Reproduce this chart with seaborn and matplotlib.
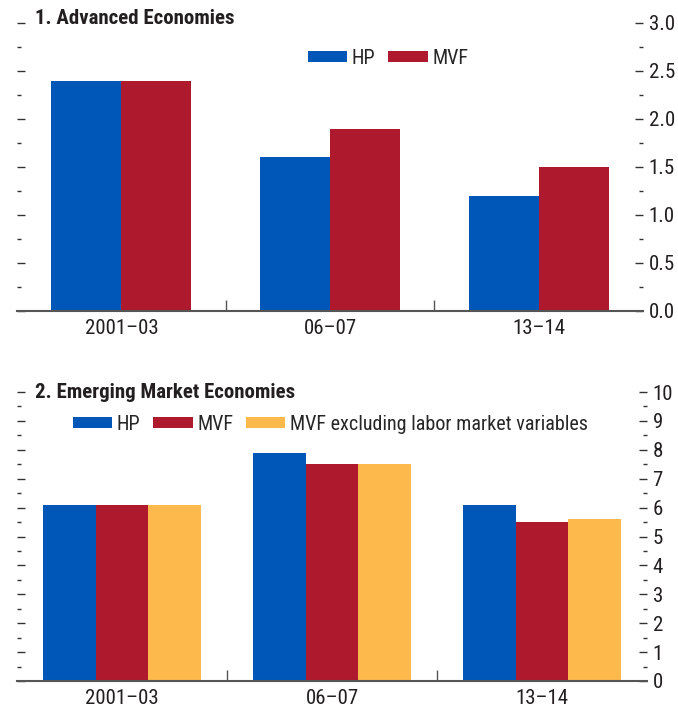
import matplotlib
matplotlib.use("Agg")
import matplotlib.pyplot as plt
import seaborn as sns
import pandas as pd
from matplotlib.ticker import MultipleLocator, FixedLocator

# ---- data ----
categories = ["2001–03", "06–07", "13–14"]
adv_series = ["HP", "MVF"]
adv_hp = [2.4, 1.6, 1.2]
adv_mvf = [2.4, 1.9, 1.5]
em_series = ["HP", "MVF", "MVF excluding labor market variables"]
em_hp = [6.1, 7.9, 6.1]
em_mvf = [6.1, 7.5, 5.5]
em_mvf_ex = [6.1, 7.5, 5.6]
adv_ticks = [0.0, 0.5, 1.0, 1.5, 2.0, 2.5, 3.0]
em_ticks = [0, 1, 2, 3, 4, 5, 6, 7, 8, 9, 10]

colors = ["#0057B8", "#AE192D", "#FDB94B"]

sns.set_theme(style="white")
plt.rcParams["font.family"] = ["Roboto Condensed", "DejaVu Sans"]

df_adv = pd.DataFrame({
    "cat": categories * 2,
    "val": adv_hp + adv_mvf,
    "series": [adv_series[0]] * 3 + [adv_series[1]] * 3,
})
df_em = pd.DataFrame({
    "cat": categories * 3,
    "val": em_hp + em_mvf + em_mvf_ex,
    "series": [em_series[0]] * 3 + [em_series[1]] * 3 + [em_series[2]] * 3,
})

fig = plt.figure(figsize=(6.78, 7.13), dpi=100)
ax1 = fig.add_axes([17 / 678, 1 - 311 / 713, (643 - 17) / 678, (311 - 23) / 713])
ax2 = fig.add_axes([17 / 678, 1 - 681 / 713, (647 - 17) / 678, (681 - 392) / 713])

sns.barplot(data=df_adv, x="cat", y="val", hue="series", palette=colors[:2],
            width=0.67, saturation=1, ax=ax1, errorbar=None, linewidth=0)
sns.barplot(data=df_em, x="cat", y="val", hue="series", palette=colors,
            width=0.75, saturation=1, ax=ax2, errorbar=None, linewidth=0)

FS = 15
LFS = 14.5
text_color = "#231f20"
tick_color = "#333333"
for ax, ticks, minor_step in [(ax1, adv_ticks, 0.25), (ax2, em_ticks, 0.5)]:
    ax.set_xlim(-0.5, 2.5)
    ax.set_ylim(ticks[0], ticks[-1])
    ax.set_yticks(ticks)
    if ax is ax1:
        ax.set_yticklabels([f"{t:.1f}" for t in ticks])
    else:
        ax.set_yticklabels([f"{t:d}" for t in ticks])
    ax.yaxis.set_minor_locator(MultipleLocator(minor_step))
    ax.xaxis.set_minor_locator(FixedLocator([0.5, 1.5]))
    ax.set_xlabel("")
    ax.set_ylabel("")
    for s in ["top", "left", "right"]:
        ax.spines[s].set_visible(False)
    ax.spines["bottom"].set_color("#555555")
    ax.spines["bottom"].set_linewidth(1.5)
    ax.tick_params(axis="y", which="both", left=True, right=True,
                   labelleft=False, labelright=True, direction="in",
                   color=tick_color, labelsize=FS, labelcolor=text_color, pad=4)
    ax.tick_params(axis="y", which="major", length=6, width=1)
    ax.tick_params(axis="y", which="minor", length=3, width=1)
    ax.tick_params(axis="x", which="major", length=0, labelsize=FS,
                   labelcolor=text_color, pad=6)
    ax.tick_params(axis="x", which="minor", bottom=True, direction="in",
                   length=8, width=1, color="#555555")
    ax.patch.set_alpha(0)

leg_kw = dict(bbox_transform=fig.transFigure, frameon=False, fontsize=LFS,
              handlelength=1.95, handleheight=0.5, columnspacing=0.65,
              handletextpad=0.22, borderpad=0, borderaxespad=0)
ax1.legend(loc="center", bbox_to_anchor=(388 / 678, 1 - 58 / 713), ncol=2, **leg_kw)
ax2.legend(loc="center left", bbox_to_anchor=(73 / 678, 1 - 424 / 713), ncol=3, **leg_kw)

fig.text(35 / 678, 1 - 18 / 713, "1. Advanced Economies", fontsize=FS,
         fontweight="bold", va="center", ha="left", color=text_color)
fig.text(35 / 678, 1 - 392 / 713, "2. Emerging Market Economies", fontsize=FS,
         fontweight="bold", va="center", ha="left", color=text_color)

fig.savefig("out.png", dpi=100)
